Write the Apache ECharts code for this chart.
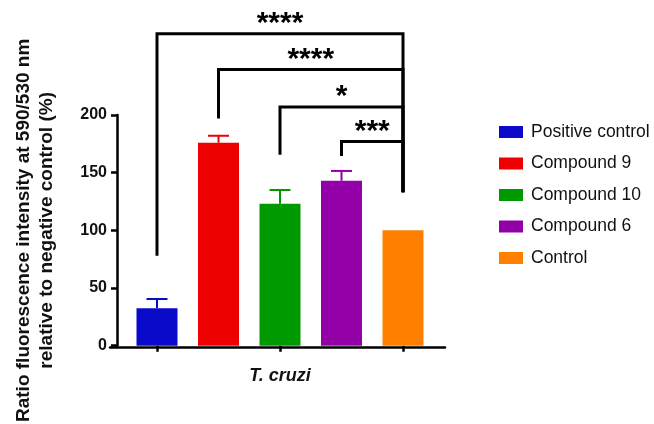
<!DOCTYPE html>
<html><head><meta charset="utf-8">
<script src="https://cdn.jsdelivr.net/npm/echarts@6/dist/echarts.min.js"></script>
<style>html,body{margin:0;padding:0;background:#fff}#c{width:654px;height:424px}</style>
</head><body><div id="c"></div>
<script>
var categories = ['Positive control', 'Compound 9', 'Compound 10', 'Compound 6', 'Control'];
var means = [32.5, 176, 123, 143, 100];
var errors = [8, 6, 12, 8.5, 0];
var colors = ['#0A0ACB', '#EE0000', '#009A00', '#9400A8', '#FF8000'];
var yTicks = [0, 50, 100, 150, 200];
// significance brackets: from category, to category, bracket height, left-leg end, right-leg end, stars
var bracketFrom = [0, 1, 2, 3];
var bracketTo = [4, 4, 4, 4];
var bracketTop = [270.5, 239.5, 207, 177];
var bracketLeftEnd = [78, 197, 165.5, 164.5];
var bracketRightEnd = [133, 133, 133, 133];
var bracketStars = ['****', '****', '*', '***'];

var FONT = "'Liberation Sans', Arial, sans-serif";
var chart = echarts.init(document.getElementById('c'), null, {renderer: 'canvas'});

var barSeries = categories.map(function (name, i) {
  return {
    name: name, type: 'bar', barWidth: 41, barGap: '-100%',
    itemStyle: {color: colors[i]},
    data: means.map(function (v, j) { return j === i ? v : '-'; }),
    z: 2
  };
});

var errData = means.map(function (m, i) { return [i, m, errors[i]]; });
var bracketData = bracketFrom.map(function (f, i) {
  return [f, bracketTo[i], bracketTop[i], bracketLeftEnd[i], bracketRightEnd[i], i];
});

chart.setOption({
  animation: false,
  grid: [
    {left: 126.25, right: 220.25, top: 115, bottom: 77},
    {left: 110, right: 209, top: 115, bottom: 77}
  ],
  legend: {
    data: categories, orient: 'vertical', left: 494, top: 118,
    itemWidth: 24, itemHeight: 12, itemGap: 13.5, icon: 'rect',
    textStyle: {fontFamily: FONT, fontSize: 17.5, color: '#111', padding: [0, 0, 0, 3]}
  },
  xAxis: [{
    type: 'category', data: categories, gridIndex: 0,
    axisLine: {show: false},
    axisTick: {show: true, alignWithLabel: true, length: 6, lineStyle: {color: '#000', width: 2.5}},
    axisLabel: {show: false},
    name: 'T. cruzi', nameLocation: 'middle', nameGap: 21,
    nameTextStyle: {fontFamily: FONT, fontSize: 18, fontWeight: 'bold', fontStyle: 'italic', color: '#111'}
  }, {
    type: 'value', gridIndex: 1, min: 0, max: 1,
    axisLine: {show: true, lineStyle: {color: '#000', width: 2.5}},
    axisTick: {show: false}, axisLabel: {show: false}, splitLine: {show: false}
  }],
  yAxis: [{
    type: 'value', gridIndex: 0, min: 0, max: 200, interval: 50, offset: 9.25,
    axisLine: {show: true, lineStyle: {color: '#000', width: 2.5}},
    axisTick: {show: true, length: 6, lineStyle: {color: '#000', width: 2.5}},
    axisLabel: {fontFamily: FONT, fontSize: 16, fontWeight: 'bold', color: '#111', margin: 10,
      formatter: function (v) { return yTicks.indexOf(v) >= 0 ? String(v) : ''; }},
    splitLine: {show: false},
    name: 'Ratio fluorescence intensity at 590/530 nm\nrelative to negative control (%)',
    nameLocation: 'middle', nameGap: 59,
    nameTextStyle: {fontFamily: FONT, fontSize: 19, fontWeight: 'bold', color: '#111', lineHeight: 23}
  }, {
    type: 'value', gridIndex: 1, show: false, min: 0, max: 1
  }],
  series: barSeries.concat([{
    type: 'custom', name: 'errors', xAxisIndex: 0, yAxisIndex: 0, z: 3,
    data: errData,
    renderItem: function (params, api) {
      var i = api.value(0), m = api.value(1), e = api.value(2);
      if (!e) return {type: 'group', children: []};
      var p0 = api.coord([i, m]);
      var p1 = api.coord([i, m + e]);
      var style = {stroke: colors[i], lineWidth: 2};
      return {type: 'group', children: [
        {type: 'line', shape: {x1: p0[0], y1: p0[1], x2: p1[0], y2: p1[1]}, style: style},
        {type: 'line', shape: {x1: p1[0] - 10.5, y1: p1[1], x2: p1[0] + 10.5, y2: p1[1]}, style: style}
      ]};
    }
  }, {
    type: 'custom', name: 'brackets', xAxisIndex: 0, yAxisIndex: 0, z: 4, clip: false,
    data: bracketData,
    renderItem: function (params, api) {
      var f = api.value(0), t = api.value(1), top = api.value(2), le = api.value(3), re = api.value(4), k = api.value(5);
      var a = api.coord([f, le]);
      var b = api.coord([f, top]);
      var c = api.coord([t, top]);
      var d = api.coord([t, re]);
      return {type: 'group', children: [
        {type: 'polyline', shape: {points: [a, b, c, d]},
          style: {stroke: '#000', lineWidth: 3, fill: null, lineJoin: 'miter'}},
        {type: 'text', x: (b[0] + c[0]) / 2, y: b[1] + 5,
          style: {text: bracketStars[k], fontFamily: FONT, fontSize: 30, fontWeight: 'bold',
            fill: '#000', align: 'center', verticalAlign: 'bottom'}}
      ]};
    }
  }])
});
</script></body></html>
